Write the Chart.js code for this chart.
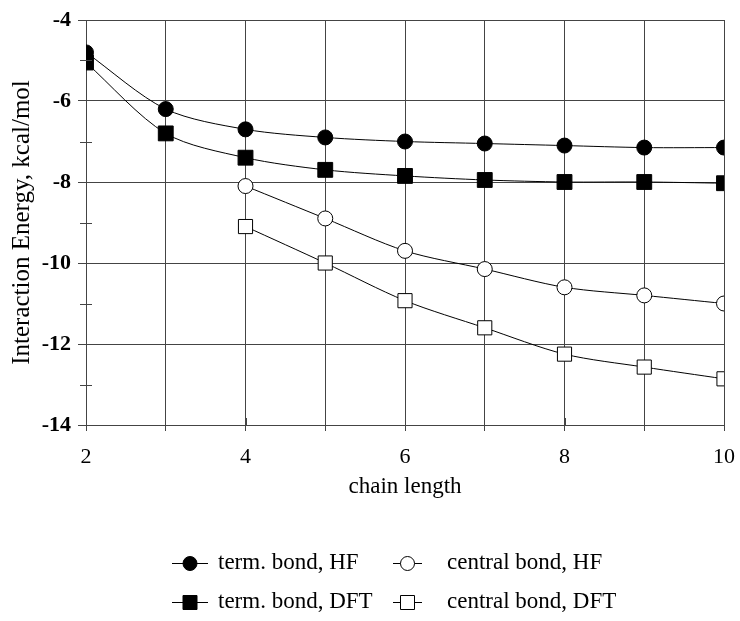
<!DOCTYPE html>
<html>
<head>
<meta charset="utf-8">
<script src="https://cdn.jsdelivr.net/npm/chart.js@4/dist/chart.umd.min.js"></script>
<style>
html, body { margin: 0; padding: 0; background: #fff; }
#wrap { width: 740px; height: 621px; }
</style>
</head>
<body>
<div id="wrap"><canvas id="energyChart"></canvas></div>
<script>
const chainLength = [2, 3, 4, 5, 6, 7, 8, 9, 10];
const termHF = [-4.8, -6.2, -6.7, -6.9, -7.0, -7.05, -7.1, -7.15, -7.15];
const termDFT = [-5.05, -6.8, -7.4, -7.7, -7.85, -7.95, -8.0, -8.0, -8.03];
const centralHF = [null, null, -8.1, -8.9, -9.7, -10.15, -10.6, -10.8, -11.0];
const centralDFT = [null, null, -9.1, -10.0, -10.93, -11.6, -12.25, -12.57, -12.86];

const serif = "'Liberation Serif', 'DejaVu Serif', serif";
const gridCol = '#444';

function pts(vals) {
    return chainLength.map((x, i) => ({ x: x, y: vals[i] })).filter(p => p.y !== null);
}

function series(label, vals, style, filled, radius) {
    return {
        label: label,
        data: pts(vals),
        borderColor: '#000',
        borderWidth: 1,
        backgroundColor: filled ? '#000' : '#fff',
        pointStyle: style,
        pointRadius: radius,
        pointHoverRadius: radius,
        pointBorderWidth: 1,
        pointBorderColor: '#000',
        pointBackgroundColor: filled ? '#000' : '#fff',
        tension: 0.3,
        fill: false
    };
}

// legend drawn in the free space under the x axis (two rows, two columns)
const legendSlots = [
    { ds: 0, x: 172, w: 36, tx: 218, y: 563 },
    { ds: 2, x: 393, w: 29, tx: 447, y: 563 },
    { ds: 1, x: 172, w: 36, tx: 218, y: 602 },
    { ds: 3, x: 393, w: 29, tx: 447, y: 602 }
];

const extrasPlugin = {
    id: 'extras',
    afterDraw(chart) {
        const ctx = chart.ctx;
        const xs = chart.scales.x, ys = chart.scales.y;
        const area = chart.chartArea;
        ctx.save();
        ctx.strokeStyle = gridCol;
        ctx.lineWidth = 1;
        // minor ticks on the y axis at odd values
        for (let v = -13; v <= -5; v += 2) {
            const py = Math.round(ys.getPixelForValue(v)) + 0.5;
            ctx.beginPath();
            ctx.moveTo(area.left - 6, py);
            ctx.lineTo(area.left + 6, py);
            ctx.stroke();
        }
        // ticks crossing the bottom edge at even x values
        for (let v = 4; v <= 8; v += 2) {
            const px = Math.round(xs.getPixelForValue(v)) + 0.5;
            ctx.beginPath();
            ctx.moveTo(px, area.bottom - 7);
            ctx.lineTo(px, area.bottom);
            ctx.stroke();
        }
        // legend
        ctx.font = '23px ' + serif;
        ctx.textBaseline = 'middle';
        legendSlots.forEach(s => {
            const ds = chart.data.datasets[s.ds];
            const cx = s.x + s.w / 2, cy = s.y + 0.5;
            ctx.strokeStyle = '#000';
            ctx.beginPath();
            ctx.moveTo(s.x, cy);
            ctx.lineTo(s.x + s.w, cy);
            ctx.stroke();
            ctx.fillStyle = ds.pointBackgroundColor;
            ctx.beginPath();
            if (ds.pointStyle === 'rect') {
                ctx.rect(cx - 7, cy - 7, 14, 14);
            } else {
                ctx.arc(cx, cy, 7, 0, Math.PI * 2);
            }
            ctx.fill();
            ctx.stroke();
            ctx.fillStyle = '#000';
            ctx.fillText(ds.label, s.tx, s.y);
        });
        ctx.restore();
    }
};

new Chart(document.getElementById('energyChart'), {
    type: 'line',
    data: {
        datasets: [
            series('term. bond, HF', termHF, 'circle', true, 7.5),
            series('term. bond, DFT', termDFT, 'rect', true, 10.5),
            series('central bond, HF', centralHF, 'circle', false, 7.5),
            series('central bond, DFT', centralDFT, 'rect', false, 10)
        ]
    },
    options: {
        responsive: true, maintainAspectRatio: false,
        animation: false,
        layout: { padding: { top: 20, right: 16, bottom: 120, left: 0 } },
        plugins: { legend: { display: false }, tooltip: { enabled: false } },
        scales: {
            x: {
                type: 'linear', min: 2, max: 10,
                afterFit: function(scale) {
                    scale.height = 76;
                    scale.paddingLeft = 0;
                    scale.paddingRight = 0;
                },
                ticks: {
                    stepSize: 1, color: '#000', padding: 13,
                    font: { family: serif, size: 22 },
                    callback: function(v) { return v % 2 === 0 ? String(v) : ''; }
                },
                grid: { color: gridCol, tickLength: 6, tickColor: gridCol },
                border: { color: gridCol },
                title: {
                    display: true, text: 'chain length', color: '#000',
                    font: { family: serif, size: 23 }, padding: 0
                }
            },
            y: {
                min: -14, max: -4,
                afterFit: function(scale) {
                    scale.width = 86;
                    scale.paddingTop = 0;
                    scale.paddingBottom = 0;
                },
                ticks: {
                    stepSize: 1, color: '#000', padding: 7,
                    font: { family: serif, size: 22, weight: 'bold' },
                    callback: function(v) { return v % 2 === 0 ? String(v) : ''; }
                },
                grid: {
                    tickLength: 8,
                    color: ctx => (ctx.tick && ctx.tick.value % 2 === 0) ? gridCol : 'rgba(0,0,0,0)',
                    tickColor: ctx => (ctx.tick && ctx.tick.value % 2 === 0) ? gridCol : 'rgba(0,0,0,0)'
                },
                border: { color: gridCol },
                title: {
                    display: true, text: 'Interaction Energy, kcal/mol', color: '#000',
                    font: { family: serif, size: 25 }, padding: { top: 7, bottom: 0 }
                }
            }
        }
    },
    plugins: [extrasPlugin]
});
</script>
</body>
</html>
